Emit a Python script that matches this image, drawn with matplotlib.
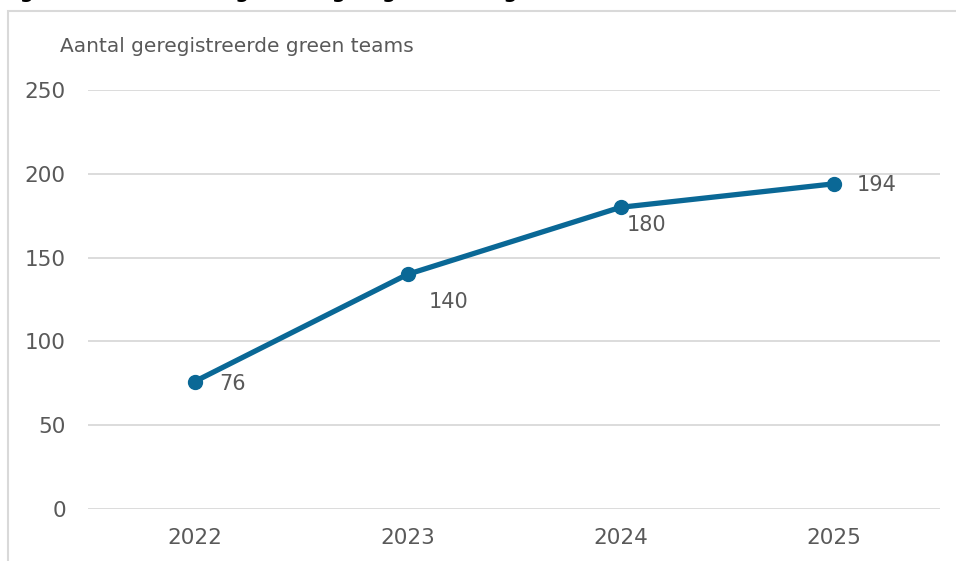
import matplotlib
matplotlib.use("Agg")
import matplotlib.pyplot as plt
from matplotlib.patches import Rectangle

years = ["2022", "2023", "2024", "2025"]
teams = [76, 140, 180, 194]
y_ticks = [0, 50, 100, 150, 200, 250]
y_label = "Aantal geregistreerde green teams"

# label offsets in pixels (dx, dy) relative to each point
label_offsets = [(25, -2), (21, -28), (6, -18), (23, -1)]

plt.rcParams['font.family'] = ['DejaVu Sans']
text_color = "#595959"
line_color = "#0A6896"
grid_color = "#D9D9D9"

fig = plt.figure(figsize=(9.56, 5.61), dpi=100)

# outer chart border (partly cut off at the right and bottom)
fig.patches.append(Rectangle((8 / 956, -0.05), 1.2, (561 - 11) / 561 + 0.05,
                             transform=fig.transFigure, fill=False,
                             edgecolor=grid_color, linewidth=1.5))

# cut-off title at the top
fig.text(0.0, 1 + 2 / 561, "Figuur 1  Ontwikkeling aantal geregistreerde green teams",
         fontsize=14, fontweight='bold', color='black', va='baseline', ha='left')

ax = fig.add_axes([88 / 956, 1 - 509 / 561, (940 - 88) / 956, (509 - 90) / 561])
x = list(range(len(years)))
ax.plot(x, teams, color=line_color, linewidth=3.8, marker='o', markersize=10,
        solid_capstyle='round', zorder=3)

for xi, v, (dx, dy) in zip(x, teams, label_offsets):
    ax.annotate(str(v), (xi, v), xytext=(dx * 0.72, dy * 0.72), textcoords='offset points',
                ha='left', va='center', fontsize=15, color=text_color)

ax.set_xlim(-0.5, len(years) - 0.5)
ax.set_ylim(0, 250)
ax.set_yticks(y_ticks)
ax.set_xticks(x)
ax.set_xticklabels(years)
ax.tick_params(axis='both', length=0, labelsize=15.5, labelcolor=text_color)
ax.tick_params(axis='y', pad=16)
ax.tick_params(axis='x', pad=14)
ax.grid(axis='y', color=grid_color, linewidth=1.3)
ax.set_axisbelow(True)
for s in ax.spines.values():
    s.set_visible(False)

fig.text(60 / 956, 1 - 47 / 561, y_label, fontsize=14.5, color=text_color,
         ha='left', va='center')

fig.savefig("out.png", dpi=100)
